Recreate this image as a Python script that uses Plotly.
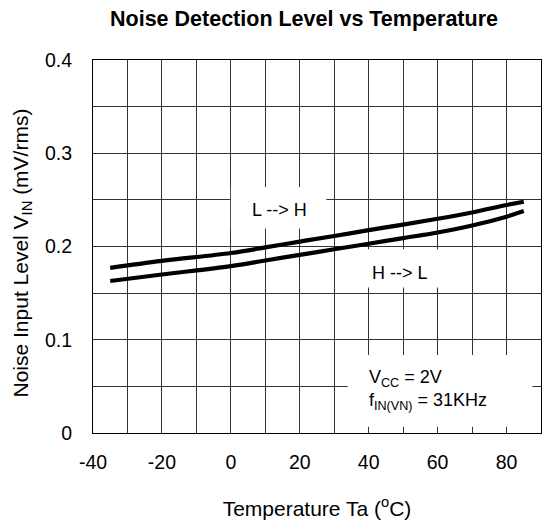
import plotly.graph_objects as go

# Data
temp_c = [-35, -20, 0, 10, 20, 30, 40, 50, 60, 70, 80, 85]
l_to_h = [0.177, 0.1845, 0.193, 0.199, 0.2053, 0.2113, 0.2175, 0.2235, 0.2297, 0.2365, 0.2445, 0.248]
h_to_l = [0.163, 0.170, 0.179, 0.185, 0.191, 0.197, 0.203, 0.209, 0.215, 0.2225, 0.232, 0.238]

x_ticks = [-40, -20, 0, 20, 40, 60, 80]
y_ticks = [0, 0.1, 0.2, 0.3, 0.4]

FONT = "Arial, Liberation Sans, sans-serif"
GRID = "#333333"

fig = go.Figure()
fig.add_trace(go.Scatter(x=temp_c, y=l_to_h, mode="lines", line=dict(color="black", width=4.2, shape="spline"),
                         name="L --> H", showlegend=False, hoverinfo="skip"))
fig.add_trace(go.Scatter(x=temp_c, y=h_to_l, mode="lines", line=dict(color="black", width=4.2, shape="spline"),
                         name="H --> L", showlegend=False, hoverinfo="skip"))

# white label boxes covering grid
boxes = [(0, 27.7, 0.2193, 0.2637), (39.2, 61.6, 0.156, 0.197), (33.9, 87.5, 0.0067, 0.0837)]
for x0, x1, y0, y1 in boxes:
    fig.add_shape(type="rect", x0=x0, x1=x1, y0=y0, y1=y1, xref="x", yref="y",
                  fillcolor="white", line=dict(width=0), layer="between")

fig.add_annotation(x=14.2, y=0.2389, text="L --> H", showarrow=False,
                   font=dict(family=FONT, size=18, color="black"))
fig.add_annotation(x=49, y=0.1718, text="H --> L", showarrow=False,
                   font=dict(family=FONT, size=18, color="black"))
fig.add_annotation(x=39.6, y=0.046, xanchor="left", yanchor="middle", align="left",
                   text="V<sub>CC</sub> = 2V<br>f<sub>IN(VN)</sub> = 31KHz", showarrow=False,
                   font=dict(family=FONT, size=18, color="black"))

# y-axis title
fig.add_annotation(xref="paper", yref="paper", x=0, y=0.5, xshift=-87, yshift=-7, textangle=-90,
                   text="Noise Input Level V<sub>IN</sub> (mV/rms)", showarrow=False,
                   font=dict(family=FONT, size=21, color="black"))

fig.update_layout(
    width=542, height=525,
    margin=dict(l=93, r=1, t=60, b=92),
    paper_bgcolor="white", plot_bgcolor="white",
    font=dict(family=FONT, size=19.5, color="black"),
    title=dict(text="<b>Noise Detection Level vs Temperature</b>", x=304/542, xref="container", xanchor="center",
               y=1 - 18/525, yref="container", yanchor="middle",
               font=dict(family=FONT, size=21.5, color="black")),
    xaxis=dict(range=[-40, 90], tickvals=x_ticks, ticktext=[str(v) for v in x_ticks],
               showgrid=True, gridcolor=GRID, gridwidth=1,
               minor=dict(dtick=10, tick0=-40, showgrid=True, gridcolor=GRID, gridwidth=1),
               showline=True, linecolor="black", linewidth=1, mirror=True,
               ticks="outside", ticklen=12, tickcolor="rgba(0,0,0,0)", zeroline=False,
               title=dict(text="Temperature Ta (<sup>o</sup>C)", standoff=28,
                          font=dict(family=FONT, size=21))),
    yaxis=dict(range=[0, 0.4], tickvals=y_ticks, ticktext=["0", "0.1", "0.2", "0.3", "0.4"],
               showgrid=True, gridcolor=GRID, gridwidth=1,
               minor=dict(dtick=0.05, tick0=0, showgrid=True, gridcolor=GRID, gridwidth=1),
               showline=True, linecolor="black", linewidth=1, mirror=True,
               ticks="outside", ticklen=16, tickcolor="rgba(0,0,0,0)", zeroline=False),
)

fig.write_html("out.html")
